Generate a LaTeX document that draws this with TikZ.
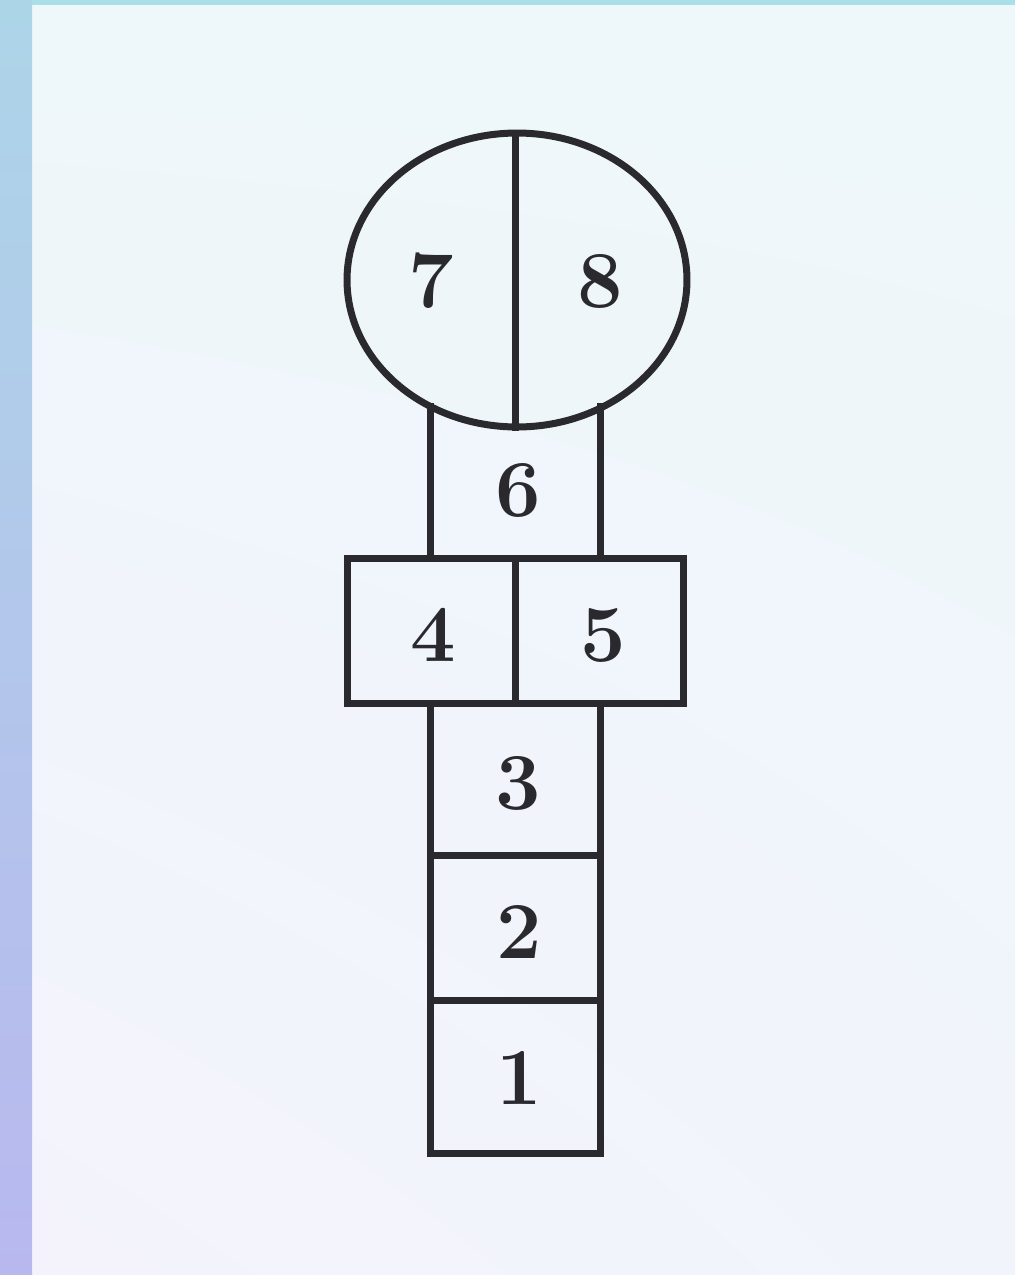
\documentclass[tikz,border=0pt]{standalone}
\usetikzlibrary{shapes.geometric,shadings}
\definecolor{bgA}{HTML}{EEF7FA}
\definecolor{bgB}{HTML}{F4F3FC}
\definecolor{bgC}{HTML}{F1F5FB}
\definecolor{stripT}{HTML}{ADD5E8}
\definecolor{stripB}{HTML}{B8B8EE}
\definecolor{topstrip}{HTML}{A9E0E7}
\definecolor{ink}{HTML}{2A2A2E}
\tikzset{
  hop/.style={draw=ink, line width=0.14cm, line cap=rect},
  num/.style={text=ink, font=\fontsize{46}{46}\selectfont\bfseries, inner sep=0pt}
}
\begin{document}
\begin{tikzpicture}[x=0.02cm,y=-0.02cm]
\useasboundingbox (0,0) rectangle (1015,1275);
% background
\shade[upper left=bgA, upper right=bgA, lower left=bgB, lower right=bgC] (0,0) rectangle (1015,1275);
\shade[top color=stripT, bottom color=stripB] (0,0) rectangle (32,1275);
\fill[topstrip] (32,0) rectangle (1015,5);
% ellipse (7 / 8)
\draw[hop] (517,280) ellipse [x radius=3.4cm, y radius=2.94cm];
\coordinate (etop) at (515,133);
\coordinate (ebot) at (515,427);
\draw[hop] (etop) -- (ebot);
% square 6 sides
\coordinate (s6l) at (430,406);
\coordinate (s6r) at (600,406);
\coordinate (b45l) at (430,558);
\coordinate (b45r) at (600,558);
\draw[hop] (s6l) -- (b45l);
\draw[hop] (s6r) -- (b45r);
% 4 / 5 box
\draw[hop] (347,558) rectangle (683,703);
\coordinate (m45t) at (515,558);
\coordinate (m45b) at (515,703);
\draw[hop] (m45t) -- (m45b);
% lower column 3,2,1
\draw[hop] (430,703) rectangle (600,1153);
\coordinate (d32l) at (430,855);
\coordinate (d32r) at (600,855);
\coordinate (d21l) at (430,1000);
\coordinate (d21r) at (600,1000);
\draw[hop] (d32l) -- (d32r);
\draw[hop] (d21l) -- (d21r);
% numbers
\node[num] (n7) at (431,281) {7};
\node[num] (n8) at (600,281) {8};
\node[num] (n6) at (518,490) {6};
\node[num] (n4) at (433,635) {4};
\node[num] (n5) at (603,635) {5};
\node[num] (n3) at (518,783) {3};
\node[num] (n2) at (519,932) {2};
\node[num] (n1) at (519,1078) {1};
\end{tikzpicture}
\end{document}
